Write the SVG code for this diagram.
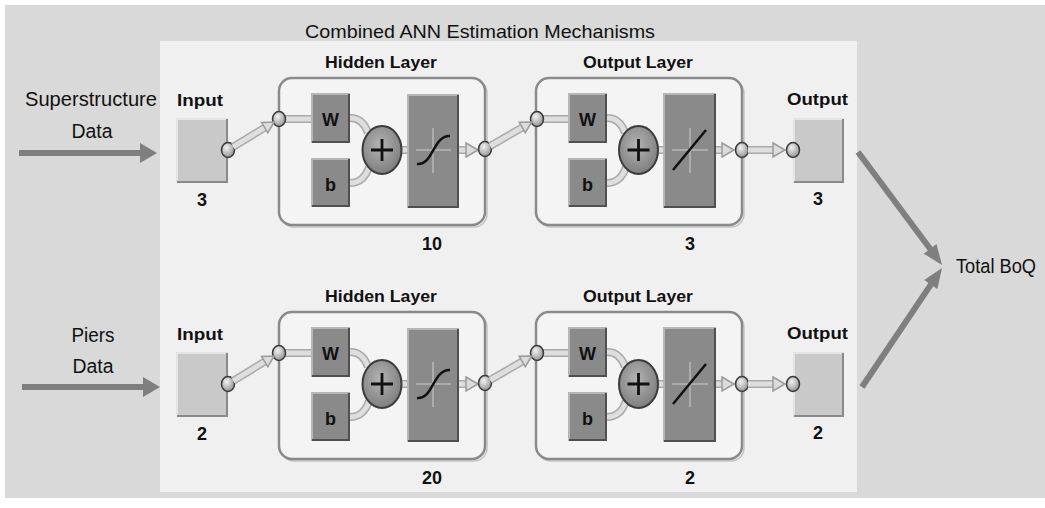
<svg xmlns="http://www.w3.org/2000/svg" width="1045" height="508" viewBox="0 0 1045 508">
<defs>
<radialGradient id="gDot" cx="0.4" cy="0.35" r="0.7">
<stop offset="0" stop-color="#f2f2f2"/><stop offset="1" stop-color="#8f8f8f"/>
</radialGradient>
<radialGradient id="gSum" cx="0.45" cy="0.4" r="0.65">
<stop offset="0" stop-color="#b4b4b4"/><stop offset="1" stop-color="#7a7a7a"/>
</radialGradient>
<style>
.t{font-family:"Liberation Sans",Arial,sans-serif;fill:#111}
.b{font-family:"Liberation Sans",Arial,sans-serif;font-weight:bold;fill:#111}
.layer{fill:#f4f4f4;stroke:#8a8a8a;stroke-width:2.5}
.layerS{fill:none;stroke:#c4c4c4;stroke-width:1.5}
.io{fill:#c9c9c9}
.ioL{fill:none;stroke:#e4e4e4;stroke-width:2}
.ioD{fill:none;stroke:#8a8a8a;stroke-width:2}
.dk{fill:#8a8a8a}
.dkL{fill:none;stroke:#b6b6b6;stroke-width:2}
.dkD{fill:none;stroke:#505050;stroke-width:2}
.dot{fill:url(#gDot);stroke:#3a3a3a;stroke-width:1.5}
.sum{fill:url(#gSum);stroke:#3c3c3c;stroke-width:2}
.sign{stroke:#111;stroke-width:2.8;fill:none}
.cross{stroke:#b8b8b8;stroke-width:1.5;fill:none}
.curve{stroke:#111;stroke-width:2.5;fill:none}
.pipeO{fill:none;stroke:#a9a9a9;stroke-width:8}
.pipeI{fill:none;stroke:#dedede;stroke-width:5}
.head{fill:#dcdcdc;stroke:#9a9a9a;stroke-width:1.5}
.big{stroke:#7f7f7f;stroke-width:6;fill:none}
.bigH{fill:#7f7f7f}
</style>
</defs>

<rect x="0" y="0" width="1045" height="508" fill="#ffffff"/>
<rect x="5" y="5" width="1040" height="493" fill="#d9d9d9"/>
<rect x="160" y="41" width="697" height="451" fill="#f0f0f0"/>

<text class="t" x="480" y="38" font-size="19" text-anchor="middle" textLength="350" lengthAdjust="spacingAndGlyphs">Combined ANN Estimation Mechanisms</text>

<g id="label-superstructure">
<text class="t" x="91" y="106" font-size="20" text-anchor="middle" textLength="132" lengthAdjust="spacingAndGlyphs">Superstructure</text>
<text class="t" x="92" y="138" font-size="20" text-anchor="middle" textLength="41" lengthAdjust="spacingAndGlyphs">Data</text>
</g>
<g id="label-piers">
<text class="t" x="93" y="342" font-size="20" text-anchor="middle" textLength="43" lengthAdjust="spacingAndGlyphs">Piers</text>
<text class="t" x="93" y="373" font-size="20" text-anchor="middle" textLength="41" lengthAdjust="spacingAndGlyphs">Data</text>
</g>
<g id="label-total">
<text class="t" x="956" y="273" font-size="20.5" textLength="80" lengthAdjust="spacingAndGlyphs">Total BoQ</text>
</g>

<!-- ===== Top row ===== -->
<g id="input-top">
<text class="b" x="177" y="106" font-size="17" textLength="46" lengthAdjust="spacingAndGlyphs">Input</text>
<rect class="io" x="176" y="118" width="52" height="65"/>
<path class="ioL" d="M177,183 V119 H228"/>
<path class="ioD" d="M227,119 V182 H177"/>
<text class="b" x="202" y="206" font-size="18" text-anchor="middle">3</text>
<ellipse class="dot" cx="228" cy="150" rx="6.5" ry="7.5"/>
</g>

<g id="hidden-top">
<text class="b" x="381" y="68" font-size="17" text-anchor="middle" textLength="112" lengthAdjust="spacingAndGlyphs">Hidden Layer</text>
<rect class="layerS" x="281" y="80" width="206" height="147" rx="13"/>
<rect class="layer" x="279" y="78" width="206" height="147" rx="13"/>
<path class="pipeO" d="M285,119 H311 M350,118 C360,118 365,124 368,133 M350,183 C360,183 366,176 369,167 M401,150 H407 M459,150 H466"/>
<path class="pipeI" d="M285,119 H311 M350,118 C360,118 365,124 368,133 M350,183 C360,183 366,176 369,167 M401,150 H407 M459,150 H466"/>
<rect class="dk" x="311" y="93" width="39" height="50"/>
<path class="dkL" d="M312,143 V94 H350"/><path class="dkD" d="M349,94 V142 H312"/>
<text class="b" x="330.5" y="126" font-size="18" text-anchor="middle">W</text>
<rect class="dk" x="311" y="158" width="39" height="49"/>
<path class="dkL" d="M312,207 V159 H350"/><path class="dkD" d="M349,159 V206 H312"/>
<text class="b" x="330.5" y="191" font-size="18" text-anchor="middle">b</text>
<ellipse class="sum" cx="382" cy="150" rx="19.5" ry="24"/>
<path class="sign" d="M371,150 H393 M382,139 V161"/>
<rect class="dk" x="407" y="94" width="52" height="114"/>
<path class="dkL" d="M408,208 V95 H459"/><path class="dkD" d="M458,95 V207 H408"/>
<path class="cross" d="M433,128 V173 M416,150 H451"/>
<path class="curve" d="M417,164 C433,166 433,135 450,136"/>
<polygon class="head" points="466,143 478,150 466,157"/>
<ellipse class="dot" cx="279" cy="119" rx="6.5" ry="7.5"/>
<ellipse class="dot" cx="485" cy="149" rx="6.5" ry="7.5"/>
<text class="b" x="432" y="250" font-size="18" text-anchor="middle">10</text>
</g>

<g id="outlayer-top">
<text class="b" x="638" y="68" font-size="17" text-anchor="middle" textLength="110" lengthAdjust="spacingAndGlyphs">Output Layer</text>
<rect class="layerS" x="538" y="80" width="206" height="147" rx="13"/>
<rect class="layer" x="536" y="78" width="206" height="147" rx="13"/>
<path class="pipeO" d="M543,119 H568 M607,118 C617,118 622,124 625,133 M607,183 C617,183 623,176 626,167 M658,150 H663 M716,150 H722"/>
<path class="pipeI" d="M543,119 H568 M607,118 C617,118 622,124 625,133 M607,183 C617,183 623,176 626,167 M658,150 H663 M716,150 H722"/>
<rect class="dk" x="568" y="93" width="39" height="50"/>
<path class="dkL" d="M569,143 V94 H607"/><path class="dkD" d="M606,94 V142 H569"/>
<text class="b" x="587.5" y="126" font-size="18" text-anchor="middle">W</text>
<rect class="dk" x="568" y="158" width="39" height="49"/>
<path class="dkL" d="M569,207 V159 H607"/><path class="dkD" d="M606,159 V206 H569"/>
<text class="b" x="587.5" y="191" font-size="18" text-anchor="middle">b</text>
<ellipse class="sum" cx="638.5" cy="150" rx="19.5" ry="24"/>
<path class="sign" d="M627.5,150 H649.5 M638.5,139 V161"/>
<rect class="dk" x="663" y="93" width="53" height="115"/>
<path class="dkL" d="M664,208 V94 H716"/><path class="dkD" d="M715,94 V207 H664"/>
<path class="cross" d="M690,128 V173 M672,150 H708"/>
<path class="curve" d="M673,170 L706,130"/>
<polygon class="head" points="722,143 734,150 722,157"/>
<ellipse class="dot" cx="537" cy="119" rx="6.5" ry="7.5"/>
<ellipse class="dot" cx="742" cy="150" rx="6.5" ry="7.5"/>
<text class="b" x="690" y="250" font-size="18" text-anchor="middle">3</text>
</g>

<g id="output-top">
<text class="b" x="787" y="105" font-size="17" textLength="61" lengthAdjust="spacingAndGlyphs">Output</text>
<rect class="io" x="793" y="118" width="51" height="65"/>
<path class="ioL" d="M794,183 V119 H844"/>
<path class="ioD" d="M843,119 V182 H794"/>
<text class="b" x="818" y="205" font-size="18" text-anchor="middle">3</text>
<ellipse class="dot" cx="793" cy="150" rx="6.5" ry="7.5"/>
</g>

<!-- ===== Bottom row ===== -->
<g id="input-bottom" transform="translate(0,234)">
<text class="b" x="177" y="106" font-size="17" textLength="46" lengthAdjust="spacingAndGlyphs">Input</text>
<rect class="io" x="176" y="118" width="52" height="65"/>
<path class="ioL" d="M177,183 V119 H228"/>
<path class="ioD" d="M227,119 V182 H177"/>
<text class="b" x="202" y="206" font-size="18" text-anchor="middle">2</text>
<ellipse class="dot" cx="228" cy="150" rx="6.5" ry="7.5"/>
</g>

<g id="hidden-bottom" transform="translate(0,234)">
<text class="b" x="381" y="68" font-size="17" text-anchor="middle" textLength="112" lengthAdjust="spacingAndGlyphs">Hidden Layer</text>
<rect class="layerS" x="281" y="80" width="206" height="147" rx="13"/>
<rect class="layer" x="279" y="78" width="206" height="147" rx="13"/>
<path class="pipeO" d="M285,119 H311 M350,118 C360,118 365,124 368,133 M350,183 C360,183 366,176 369,167 M401,150 H407 M459,150 H466"/>
<path class="pipeI" d="M285,119 H311 M350,118 C360,118 365,124 368,133 M350,183 C360,183 366,176 369,167 M401,150 H407 M459,150 H466"/>
<rect class="dk" x="311" y="93" width="39" height="50"/>
<path class="dkL" d="M312,143 V94 H350"/><path class="dkD" d="M349,94 V142 H312"/>
<text class="b" x="330.5" y="126" font-size="18" text-anchor="middle">W</text>
<rect class="dk" x="311" y="158" width="39" height="49"/>
<path class="dkL" d="M312,207 V159 H350"/><path class="dkD" d="M349,159 V206 H312"/>
<text class="b" x="330.5" y="191" font-size="18" text-anchor="middle">b</text>
<ellipse class="sum" cx="382" cy="150" rx="19.5" ry="24"/>
<path class="sign" d="M371,150 H393 M382,139 V161"/>
<rect class="dk" x="407" y="94" width="52" height="114"/>
<path class="dkL" d="M408,208 V95 H459"/><path class="dkD" d="M458,95 V207 H408"/>
<path class="cross" d="M433,128 V173 M416,150 H451"/>
<path class="curve" d="M417,164 C433,166 433,135 450,136"/>
<polygon class="head" points="466,143 478,150 466,157"/>
<ellipse class="dot" cx="279" cy="119" rx="6.5" ry="7.5"/>
<ellipse class="dot" cx="485" cy="149" rx="6.5" ry="7.5"/>
<text class="b" x="432" y="250" font-size="18" text-anchor="middle">20</text>
</g>

<g id="outlayer-bottom" transform="translate(0,234)">
<text class="b" x="638" y="68" font-size="17" text-anchor="middle" textLength="110" lengthAdjust="spacingAndGlyphs">Output Layer</text>
<rect class="layerS" x="538" y="80" width="206" height="147" rx="13"/>
<rect class="layer" x="536" y="78" width="206" height="147" rx="13"/>
<path class="pipeO" d="M543,119 H568 M607,118 C617,118 622,124 625,133 M607,183 C617,183 623,176 626,167 M658,150 H663 M716,150 H722"/>
<path class="pipeI" d="M543,119 H568 M607,118 C617,118 622,124 625,133 M607,183 C617,183 623,176 626,167 M658,150 H663 M716,150 H722"/>
<rect class="dk" x="568" y="93" width="39" height="50"/>
<path class="dkL" d="M569,143 V94 H607"/><path class="dkD" d="M606,94 V142 H569"/>
<text class="b" x="587.5" y="126" font-size="18" text-anchor="middle">W</text>
<rect class="dk" x="568" y="158" width="39" height="49"/>
<path class="dkL" d="M569,207 V159 H607"/><path class="dkD" d="M606,159 V206 H569"/>
<text class="b" x="587.5" y="191" font-size="18" text-anchor="middle">b</text>
<ellipse class="sum" cx="638.5" cy="150" rx="19.5" ry="24"/>
<path class="sign" d="M627.5,150 H649.5 M638.5,139 V161"/>
<rect class="dk" x="663" y="93" width="53" height="115"/>
<path class="dkL" d="M664,208 V94 H716"/><path class="dkD" d="M715,94 V207 H664"/>
<path class="cross" d="M690,128 V173 M672,150 H708"/>
<path class="curve" d="M673,170 L706,130"/>
<polygon class="head" points="722,143 734,150 722,157"/>
<ellipse class="dot" cx="537" cy="119" rx="6.5" ry="7.5"/>
<ellipse class="dot" cx="742" cy="150" rx="6.5" ry="7.5"/>
<text class="b" x="690" y="250" font-size="18" text-anchor="middle">2</text>
</g>

<g id="output-bottom" transform="translate(0,234)">
<text class="b" x="787" y="105" font-size="17" textLength="61" lengthAdjust="spacingAndGlyphs">Output</text>
<rect class="io" x="793" y="118" width="51" height="65"/>
<path class="ioL" d="M794,183 V119 H844"/>
<path class="ioD" d="M843,119 V182 H794"/>
<text class="b" x="818" y="205" font-size="18" text-anchor="middle">2</text>
<ellipse class="dot" cx="793" cy="150" rx="6.5" ry="7.5"/>
</g>

<!-- ===== Connectors ===== -->
<g id="connectors">
<g transform="translate(228,150) rotate(-31.3)">
<path class="pipeO" d="M6,0 H44"/><path class="pipeI" d="M6,0 H44"/>
<polygon class="head" points="43,-6 54,0 43,6"/>
</g>
<g transform="translate(485,149) rotate(-30)">
<path class="pipeO" d="M6,0 H44"/><path class="pipeI" d="M6,0 H44"/>
<polygon class="head" points="43,-6 54,0 43,6"/>
</g>
<g transform="translate(742,150)">
<path class="pipeO" d="M6,0 H32"/><path class="pipeI" d="M6,0 H32"/>
<polygon class="head" points="31,-7 43,0 31,7"/>
</g>
<g transform="translate(228,384) rotate(-31.3)">
<path class="pipeO" d="M6,0 H44"/><path class="pipeI" d="M6,0 H44"/>
<polygon class="head" points="43,-6 54,0 43,6"/>
</g>
<g transform="translate(485,383) rotate(-30)">
<path class="pipeO" d="M6,0 H44"/><path class="pipeI" d="M6,0 H44"/>
<polygon class="head" points="43,-6 54,0 43,6"/>
</g>
<g transform="translate(742,384)">
<path class="pipeO" d="M6,0 H32"/><path class="pipeI" d="M6,0 H32"/>
<polygon class="head" points="31,-7 43,0 31,7"/>
</g>

<path class="big" d="M19,153 H141"/>
<polygon class="bigH" points="140,143 157,153 140,163"/>
<path class="big" d="M22,387 H144"/>
<polygon class="bigH" points="143,377 160,387 143,397"/>

<path class="big" d="M858,152 L931,250"/>
<polygon class="bigH" points="923.7,253.7 936.5,244.1 942,265"/>
<path class="big" d="M862,387 L931.5,283.6"/>
<polygon class="bigH" points="937.4,289.1 924.2,280.1 942,268"/>
</g>
</svg>
